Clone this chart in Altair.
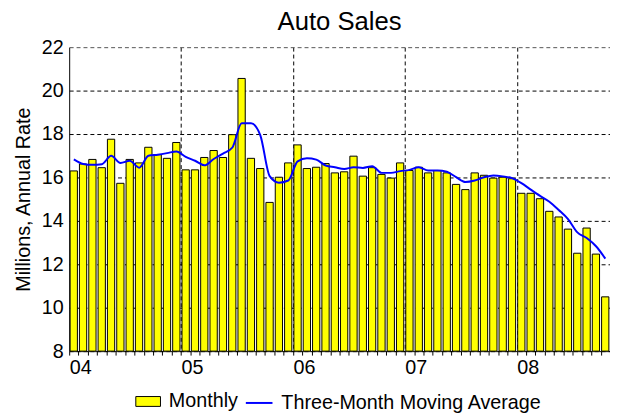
import json
import altair as alt
import pandas as pd

# Monthly auto sales, Jan 2004 .. Oct 2008 (millions, annual rate)
monthly = [16.30, 16.62, 16.83, 16.45, 17.76, 15.73, 16.83, 16.67, 17.39, 17.05, 16.88, 17.61,
           16.35, 16.35, 16.92, 17.24, 16.92, 17.97, 20.56, 16.88, 16.41, 14.85, 16.01, 16.67,
           17.50, 16.41, 16.47, 16.64, 16.21, 16.26, 16.98, 16.06, 16.45, 16.14, 15.97, 16.67,
           16.32, 16.47, 16.21, 16.32, 16.21, 15.68, 15.44, 16.21, 16.10, 15.97, 16.01, 15.94,
           15.27, 15.27, 15.02, 14.44, 14.18, 13.62, 12.51, 13.67, 12.47, 10.50]
moving_avg = [16.83, 16.62, 16.58, 16.61, 17.00, 16.67, 16.77, 16.45, 17.00, 17.05, 17.12, 17.20,
              16.95, 16.77, 16.56, 16.85, 17.10, 17.38, 18.50, 18.50, 17.94, 16.06, 15.76, 15.86,
              16.74, 16.88, 16.82, 16.55, 16.47, 16.39, 16.47, 16.44, 16.52, 16.21, 16.21, 16.29,
              16.35, 16.47, 16.32, 16.32, 16.26, 16.01, 15.79, 15.86, 16.01, 16.09, 16.05, 15.97,
              15.74, 15.44, 15.15, 14.88, 14.50, 14.08, 13.47, 13.21, 12.83, 12.26]
year_labels = ["04", "05", "06", "07", "08"]
y_ticks = [8, 10, 12, 14, 16, 18, 20, 22]
series_names = ["Monthly", "Three-Month Moving Average"]

FONT = "Liberation Sans"
n = len(monthly)
df = pd.DataFrame({
    "idx": list(range(n)),
    "monthly": monthly,
    "ma": moving_avg,
    "s1": series_names[0],
    "s2": series_names[1],
})

xscale = alt.Scale(domain=[0, n], nice=False, zero=False)
yscale = alt.Scale(domain=[y_ticks[0], y_ticks[-1]], nice=False, zero=False)

ny = len(year_labels)
label_expr = (f"datum.value % 12 == 0 && datum.value / 12 < {ny} ? "
              f"{json.dumps(year_labels)}[datum.value / 12] : ''")
grid_test = f"datum.value % 12 == 0 && datum.value > 0 && datum.value < {n}"
top_test = f"datum.value == {y_ticks[-1]}"

x_axis = alt.Axis(
    values=list(range(0, n + 1)), labelExpr=label_expr, labelOverlap=False, labelFlush=False,
    labelAlign="left", labelFontSize=20, labelFont=FONT, labelColor="black", labelPadding=3,
    tickColor="black", tickSize=4, domainColor="black", title=None,
    grid=True, gridColor="black", gridDash=[4, 3],
    gridOpacity={"condition": {"test": grid_test, "value": 1}, "value": 0},
)
y_axis = alt.Axis(
    values=y_ticks, grid=True, gridDash=[4, 3], ticks=False,
    gridColor={"condition": {"test": top_test, "value": "#555555"}, "value": "black"},
    labelPadding=6, labelFontSize=20, labelFont=FONT, labelColor="black",
    domainColor="black", title="Millions, Annual Rate", titleFontSize=20, titleFont=FONT,
    titleFontWeight="normal", titleColor="black", titlePadding=8,
)

base = alt.Chart(df).transform_calculate(
    x0="datum.idx + 0.1", x1="datum.idx + 0.88", xm="datum.idx + 0.5"
)

shadow = base.mark_bar(color="#808080", xOffset=2, yOffset=2, clip=True).encode(
    x=alt.X("x0:Q", scale=xscale, axis=x_axis),
    x2="x1:Q",
    y=alt.Y("monthly:Q", scale=yscale, axis=y_axis),
    y2=alt.datum(y_ticks[0]),
)

bars = base.mark_bar(stroke="black", strokeWidth=1, clip=True).encode(
    x=alt.X("x0:Q", scale=xscale, axis=x_axis),
    x2="x1:Q",
    y=alt.Y("monthly:Q", scale=yscale, axis=y_axis),
    y2=alt.datum(y_ticks[0]),
    color=alt.Color("s1:N", scale=alt.Scale(domain=[series_names[0]], range=["#ffff00"]),
                    legend=alt.Legend(orient="none", legendX=67, legendY=346, title=None,
                                      symbolType="M-1,-0.4H1V0.4H-1Z", symbolSize=625,
                                      symbolStrokeColor="black", symbolStrokeWidth=1,
                                      symbolOpacity=1, labelFontSize=20, labelFont=FONT,
                                      labelColor="black", labelOffset=8, labelLimit=0)),
)

line = base.mark_line(strokeWidth=2, interpolate="monotone").encode(
    x=alt.X("xm:Q", scale=xscale, axis=x_axis),
    y=alt.Y("ma:Q", scale=yscale, axis=y_axis),
    stroke=alt.Stroke("s2:N", scale=alt.Scale(domain=[series_names[1]], range=["#0000ff"]),
                      legend=alt.Legend(orient="none", legendX=178, legendY=346, title=None,
                                        symbolType="stroke", symbolSize=729, symbolStrokeWidth=2,
                                        labelFontSize=20, labelFont=FONT, labelColor="black",
                                        labelOffset=8, labelLimit=0)),
)

chart = alt.layer(shadow, bars, line).properties(
    width=548, height=308,
    title=alt.TitleParams("Auto Sales", fontSize=26, fontWeight="normal", font=FONT,
                          color="black", offset=2),
    autosize=alt.AutoSizeParams(type="none"),
    padding={"left": 62, "top": 37, "right": 0, "bottom": 61},
).configure(font=FONT).configure_view(stroke=None)

chart.save("out.html", embed_options={"renderer": "svg", "actions": False})
